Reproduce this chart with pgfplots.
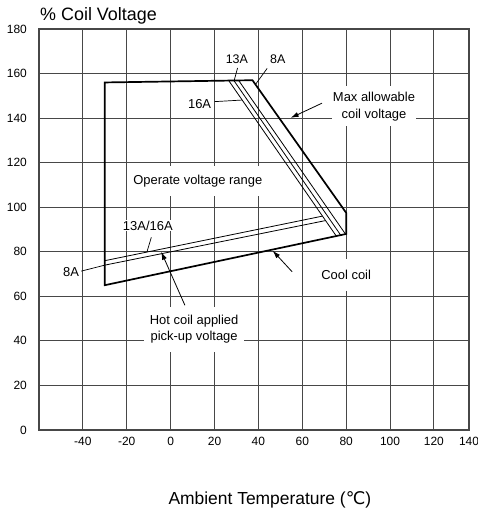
\documentclass[border=0pt]{standalone}
\usepackage{fontspec}
\setmainfont{Liberation Sans}
\newfontfamily\dejavu{DejaVu Sans}
\usepackage{pgfplots}
\pgfplotsset{compat=1.18}
\usetikzlibrary{arrows.meta}
\begin{document}
\begin{tikzpicture}[x=1bp,y=1bp]
\path[use as bounding box] (0,0) rectangle (478,510);
\begin{axis}[
  at={(39bp,80bp)}, anchor=south west,
  scale only axis, width=430bp, height=401bp,
  xmin=-60, xmax=136, ymin=0, ymax=180,
  xtick={-40,-20,0,20,40,60,80,100,120,136},
  xticklabels={-40,-20,0,20,40,60,80,100,120,140},
  ytick={0,20,...,180},
  grid=major,
  major grid style={draw=black!72, line width=1bp},
  axis line style={draw=black!72, line width=1.2bp},
  major tick length=0pt,
  tick style={draw=none},
  xticklabel style={font=\fontsize{12}{14}\selectfont, inner sep=0pt, anchor=north, yshift=-6.5bp},
  yticklabel style={font=\fontsize{12}{14}\selectfont, inner sep=0pt, anchor=east, xshift=-12bp},
  /pgf/number format/assume math mode=true,
  xlabel={Ambient Temperature ({\dejavu ℃})},
  ylabel={\% Coil Voltage},
  every axis x label/.style={at={(axis description cs:0,0)}, anchor=base west, xshift=129.3bp, yshift=-74bp, inner sep=0pt, font=\fontsize{17.5}{20}\selectfont},
  every axis y label/.style={at={(axis description cs:0,1)}, anchor=base west, xshift=1bp, yshift=8.3bp, inner sep=0pt, font=\fontsize{18}{20}\selectfont},
]
% text boxes (white backgrounds interrupt the grid)
\node[fill=white, inner xsep=1bp, inner ysep=5.6bp, align=center, font=\fontsize{13}{17}\selectfont] at (axis cs:92.7,145.3) {Max allowable\\coil voltage};
\node[fill=white, inner xsep=1bp, inner ysep=9bp, font=\fontsize{13}{15}\selectfont] at (axis cs:12.4,111.6) {Operate voltage range};
\node[fill=white, inner xsep=6bp, inner ysep=8.4bp, align=center, font=\fontsize{13}{16}\selectfont] at (axis cs:10.7,45.2) {Hot coil applied\\pick-up voltage};
\node[fill=white, inner xsep=6bp, inner ysep=11bp, font=\fontsize{13}{15}\selectfont] at (axis cs:80,69.5) {Cool coil};
\node[fill=white, inner sep=1bp, font=\fontsize{13}{15}\selectfont] at (axis cs:-10.4,91.8) {13A/16A};
\node[inner sep=0.5bp, font=\fontsize{13}{15}\selectfont] at (axis cs:-45.4,71) {8A};
\node[inner sep=1bp, font=\fontsize{12.5}{15}\selectfont] at (axis cs:30.2,166.4) {13A};
\node[inner sep=1bp, font=\fontsize{12.5}{15}\selectfont] at (axis cs:48.8,166.4) {8A};
\node[inner sep=1bp, font=\fontsize{13}{15}\selectfont] at (axis cs:13.2,146.5) {16A};

% outer boundary (max allowable / cool coil)
\addplot[black, line width=1.7bp, line join=miter] coordinates {(25,76.5) (-30,65) (-30,156) (37.3,157) (80,97.5) (80,88) (25,76.5)};
% thin max lines (16A, 13A, ...)
\addplot[black, line width=0.8bp] coordinates {(26.5,156.8) (75.5,87.06)};
\addplot[black, line width=0.8bp] coordinates {(28.8,156.9) (77.5,87.47)};
\addplot[black, line width=0.8bp] coordinates {(31.0,156.9) (79.7,87.93)};
% hot coil pick-up lines
\addplot[black, line width=0.8bp] coordinates {(-30,76) (69.2,96)};
\addplot[black, line width=0.8bp] coordinates {(-30,74) (70.6,94)};
% leaders
\addplot[black, line width=0.7bp] coordinates {(30.5,162.5) (29,157)};
\addplot[black, line width=0.7bp] coordinates {(44,162.3) (38.8,155.3)};
\addplot[black, line width=0.7bp] coordinates {(20.1,147.4) (32.6,148.1)};
\addplot[black, line width=0.7bp] coordinates {(-8.8,86.5) (-10.8,79.9)};
\addplot[black, line width=0.7bp] coordinates {(-40.8,71.3) (-30,74)};
% arrows
\addplot[black, line width=0.8bp, -{Latex[length=8bp,width=5bp]}] coordinates {(69,146.7) (54.7,140.1)};
\addplot[black, line width=0.8bp, -{Latex[length=8bp,width=5bp]}] coordinates {(6.5,56) (-4.3,80)};
\addplot[black, line width=0.8bp, -{Latex[length=8bp,width=5bp]}] coordinates {(55.4,71) (46.5,80.5)};
\end{axis}
\end{tikzpicture}
\end{document}
